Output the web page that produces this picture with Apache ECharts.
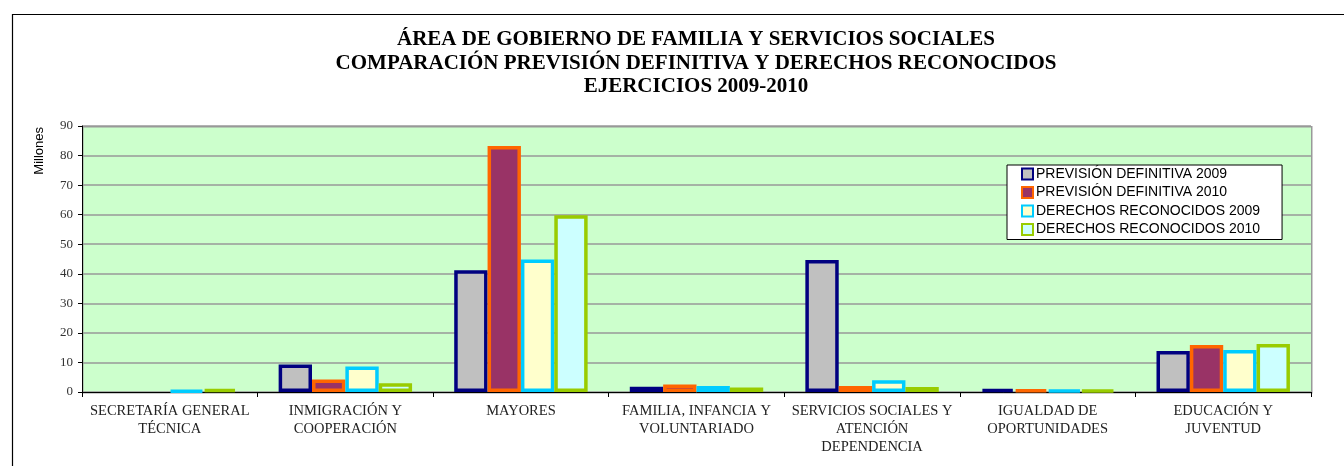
<!DOCTYPE html>
<html>
<head>
<meta charset="utf-8">
<script src="https://cdn.jsdelivr.net/npm/echarts@6/dist/echarts.min.js"></script>
<style>
  html, body { margin: 0; padding: 0; background: #fff; }
  #chart { width: 1344px; height: 466px; }
</style>
</head>
<body>
<div id="chart"></div>
<script>
// categorias (eje x)
var categorias = [
    "SECRETARÍA GENERAL\nTÉCNICA",
    "INMIGRACIÓN Y\nCOOPERACIÓN",
    "MAYORES",
    "FAMILIA, INFANCIA Y\nVOLUNTARIADO",
    "SERVICIOS SOCIALES Y\nATENCIÓN\nDEPENDENCIA",
    "IGUALDAD DE\nOPORTUNIDADES",
    "EDUCACIÓN Y\nJUVENTUD"
];
var pLegend = ["PREVISIÓN DEFINITIVA 2009", "PREVISIÓN DEFINITIVA 2010",
    "DERECHOS RECONOCIDOS 2009", "DERECHOS RECONOCIDOS 2010"];

// millones ('-' = sin dato)
var prevision2009 = ['-', 9.3, 41.2, 1.8, 44.7, 1.0, 13.9];
var prevision2010 = ['-', 4.2, 83.2, 2.5, 2.0, 0.9, 15.9];
var derechos2009 = [0.5, 8.6, 44.8, 2.0, 4.0, 0.7, 14.2];
var derechos2010 = [1.0, 3.0, 59.8, 1.5, 1.7, 0.6, 16.2];

var yTicks = [0, 10, 20, 30, 40, 50, 60, 70, 80, 90];

var fills = ["#C0C0C0", "#993366", "#FFFFCC", "#CCFFFF"];
var borders = ["#000080", "#FF6600", "#00CCFF", "#99CC00"];

function mkSerie(i, data) {
    return {
        name: pLegend[i],
        type: 'bar',
        data: data,
        barGap: '0%',
        barCategoryGap: '24%',
        itemStyle: {color: fills[i], borderColor: borders[i], borderWidth: 3.5},
        emphasis: {disabled: true}
    };
}

var myChart = echarts.init(document.getElementById("chart"));
var option = {
    animation: false,
    title: {
        text: "ÁREA DE GOBIERNO DE FAMILIA Y SERVICIOS SOCIALES\nCOMPARACIÓN PREVISIÓN DEFINITIVA Y DERECHOS RECONOCIDOS\nEJERCICIOS 2009-2010",
        left: 691,
        top: 23,
        textAlign: 'center',
        textStyle: {fontFamily: 'Liberation Serif', fontWeight: 'bold', fontSize: 21, lineHeight: 23.5, color: '#000'}
    },
    graphic: [
        {type: 'rect', left: 10, top: 12, shape: {width: 1345, height: 470},
            style: {fill: 'none', stroke: '#000', lineWidth: 1.2}, silent: true},
        {type: 'rect', left: 82, top: 126, z: -1, shape: {width: 1229, height: 266},
            style: {fill: '#CCFFCC', stroke: '#999', lineWidth: 1.5}, silent: true},
        {type: 'text', left: 33, top: 127, rotation: Math.PI / 2,
            style: {text: 'Millones', font: '13px "Liberation Sans"', fill: '#000'}}
    ],
    legend: {
        data: pLegend,
        orient: 'vertical',
        left: 1007,
        top: 165,
        padding: [2, 22, 3, 14],
        itemGap: 4.5,
        itemWidth: 11,
        itemHeight: 11,
        icon: 'rect',
        backgroundColor: '#fff',
        borderColor: '#000',
        borderWidth: 1,
        textStyle: {fontFamily: 'Liberation Sans', fontSize: 14, color: '#000', padding: [0, 0, 0, -2]},
        selectedMode: false
    },
    grid: {
        left: 82,
        right: 33,
        top: 126,
        bottom: 74,
        containLabel: false
    },
    xAxis: {
        type: 'category',
        data: categorias,
        axisLine: {lineStyle: {color: '#000', width: 1}},
        axisTick: {show: true, length: 5, lineStyle: {color: '#000'}},
        axisLabel: {fontFamily: 'Liberation Serif', fontSize: 14.5, color: '#222', lineHeight: 18, margin: 10, interval: 0}
    },
    yAxis: {
        type: 'value',
        min: 0,
        max: 90,
        interval: 10,
        axisLine: {show: true, lineStyle: {color: '#000'}},
        axisTick: {show: true, length: 4, lineStyle: {color: '#000'}},
        axisLabel: {fontFamily: 'Liberation Serif', fontSize: 13, color: '#333', margin: 9,
            formatter: function (v) { return yTicks.indexOf(v) >= 0 ? v : ''; }},
        splitLine: {lineStyle: {color: '#999', width: 1.5}}
    },
    series: [
        mkSerie(0, prevision2009),
        mkSerie(1, prevision2010),
        mkSerie(2, derechos2009),
        mkSerie(3, derechos2010)
    ]
};
myChart.setOption(option);
</script>
</body>
</html>
